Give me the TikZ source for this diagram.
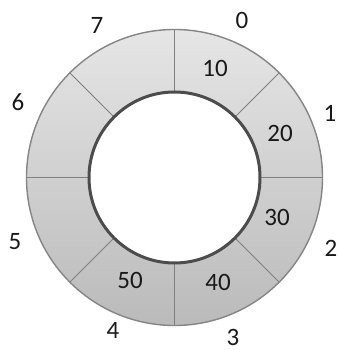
\documentclass[tikz,border=0pt]{standalone}
\usepackage{fontspec}
\setmainfont{Carlito}
\usetikzlibrary{calc}
\begin{document}
\begin{tikzpicture}[x=1pt,y=1pt,
  idx/.style={font=\fontsize{25}{27}\selectfont, text=black!90, inner sep=0pt},
  val/.style={font=\fontsize{25}{27}\selectfont, text=black!90, inner sep=0pt},
  divider/.style={draw=black!50, line width=0.9pt}]
\useasboundingbox (0,0) rectangle (338,350);
\coordinate (c) at (174.5,172.5);
\def\Ro{148}
\def\Ri{85.5}
% ring
\fill[top color=black!10, bottom color=black!27, even odd rule]
  (c) circle[radius=\Ro] (c) circle[radius=\Ri];
% dividers
\foreach \a in {0,45,...,315}
  \draw[divider] ($(c)+(\a:\Ri)$) -- ($(c)+(\a:\Ro)$);
\draw[draw=black!48, line width=1.4pt] (c) circle[radius=\Ro];
\draw[draw=black!70, line width=3pt] (c) circle[radius=\Ri];
% index labels
\node[idx] (i0) at (242,330) {0};
\node[idx] (i1) at (330,237) {1};
\node[idx] (i2) at (331,102) {2};
\node[idx] (i3) at (233,13) {3};
\node[idx] (i4) at (113,20) {4};
\node[idx] (i5) at (15,108) {5};
\node[idx] (i6) at (18,248) {6};
\node[idx] (i7) at (97,325) {7};
% values
\node[val] (v0) at (215,282) {10};
\node[val] (v1) at (280,217) {20};
\node[val] (v2) at (277,133) {30};
\node[val] (v3) at (218,68) {40};
\node[val] (v4) at (130,70) {50};
\end{tikzpicture}
\end{document}
